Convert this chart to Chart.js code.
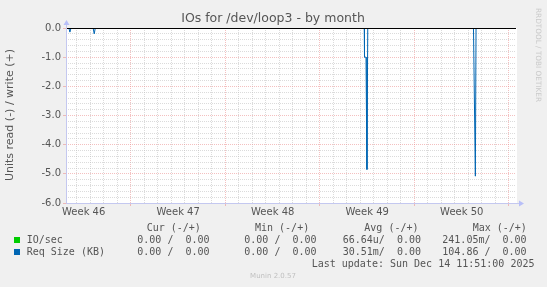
<!DOCTYPE html>
<html><head><meta charset="utf-8">
<script src="https://cdn.jsdelivr.net/npm/chart.js@4/dist/chart.umd.min.js"></script>
<style>html,body{margin:0;padding:0;background:#f0f0f0;overflow:hidden}#wrap{width:547px;height:287px;position:relative}canvas{display:block}</style>
</head><body>
<div id="wrap"><canvas id="c" width="547" height="287"></canvas></div>
<script>
// ---- text ----
const chartTitle = 'IOs for /dev/loop3 - by month';
const yAxisTitle = 'Units read (-) / write (+)';
const sideText = 'RRDTOOL / TOBI OETIKER';
const footerText = 'Munin 2.0.57';
const lastUpdate = 'Last update: Sun Dec 14 11:51:00 2025';

// ---- x axis: days relative to Sun 16 Nov 2025 00:00 ----
const xMin = -4.81, xMax = 28.52;
const weekLabels = ['Week 46', 'Week 47', 'Week 48', 'Week 49', 'Week 50'];
const weekCenters = [-3.5, 3.5, 10.5, 17.5, 24.5];
const weekStarts = [0, 7, 14, 21, 28];

// ---- y axis ----
const yMin = -6, yMax = 0;
const yMajorTicks = [-6, -5, -4, -3, -2, -1, 0];

// ---- series (read side, plotted negative) ----
const reqDays = [-4.81, -4.60, -4.52, -4.44, -2.80, -2.72, -2.64, 17.28, 17.30, 17.41, 17.48, 17.54, 25.37, 25.51, 25.56, 28.52];
const reqRead = [0, 0, -0.14, 0, 0, -0.2, 0, 0, -1.0, -1.0, -4.85, 0, 0, -5.08, 0, 0];
const ioDays = [-4.81, 28.52];
const ioRead = [0, 0];

// ---- legend ----
const legendHeaders = ['Cur (-/+)', 'Min (-/+)', 'Avg (-/+)', 'Max (-/+)'];
const legendNames = ['IO/sec', 'Req Size (KB)'];
const legendColors = ['#00cc00', '#0066b3'];
const legendValues = [
  ['0.00 /  0.00', '0.00 /  0.00', '66.64u/  0.00', '241.05m/  0.00'],
  ['0.00 /  0.00', '0.00 /  0.00', '30.51m/  0.00', '104.86 /  0.00']
];

const headerX = [146.7, 255, 364.3, 472.7];
const valueX = [137.3, 244.3, 342.7, 442.3];

function toPoints(xs, ys) { return xs.map((x, i) => ({ x: x, y: ys[i] })); }

const xTicks = [];
for (let d = Math.ceil(xMin); d <= Math.floor(xMax); d++) xTicks.push(d);
weekCenters.forEach(v => xTicks.push(v));
xTicks.sort((a, b) => a - b);
const yTicks = [];
for (let i = 0; i <= 30; i++) yTicks.push(Math.round((yMin + i * 0.2) * 10) / 10);

const MAJOR = 'rgba(235,140,140,0.55)';
const MINOR = 'rgba(190,190,190,0.55)';
const TEXT = '#555555';

const isInt = v => Math.abs(v - Math.round(v)) < 1e-6;

const deco = {
  id: 'deco',
  beforeDraw(chart) {
    const { ctx, chartArea: a } = chart;
    ctx.save();
    ctx.fillStyle = '#ffffff';
    ctx.fillRect(a.left, a.top, a.right - a.left + 1, a.bottom - a.top);
    ctx.restore();
  },
  afterDatasetsDraw(chart) {
    const { ctx, chartArea: a, scales } = chart;
    ctx.save();
    // zero line
    const y0 = Math.round(scales.y.getPixelForValue(0)) + 0.5;
    ctx.strokeStyle = '#000000';
    ctx.lineWidth = 1;
    ctx.beginPath();
    ctx.moveTo(a.left, y0);
    ctx.lineTo(a.right, y0);
    ctx.stroke();
    // axes
    const axisC = '#c4c8f0';
    const xl = Math.round(a.left) + 0.5;
    const yb = Math.round(a.bottom) + 0.5;
    ctx.strokeStyle = axisC;
    ctx.beginPath();
    ctx.moveTo(xl, yb);
    ctx.lineTo(xl, a.top - 5);
    ctx.moveTo(xl, yb);
    ctx.lineTo(a.right + 3, yb);
    ctx.stroke();
    ctx.fillStyle = '#b8bff8';
    ctx.beginPath();
    ctx.moveTo(xl - 3, a.top - 3);
    ctx.lineTo(xl + 3, a.top - 3);
    ctx.lineTo(xl, a.top - 8);
    ctx.closePath();
    ctx.fill();
    ctx.beginPath();
    ctx.moveTo(a.right + 3, yb - 3);
    ctx.lineTo(a.right + 3, yb + 3);
    ctx.lineTo(a.right + 8, yb);
    ctx.closePath();
    ctx.fill();
    ctx.restore();
  },
  afterDraw(chart) {
    const { ctx } = chart;
    ctx.save();
    ctx.fillStyle = TEXT;
    ctx.textBaseline = 'middle';
    ctx.textAlign = 'center';
    ctx.font = '12.5px "DejaVu Sans"';
    ctx.fillText(chartTitle, 273, 19);
    // y title
    ctx.save();
    ctx.translate(10.5, 115);
    ctx.rotate(-Math.PI / 2);
    ctx.font = '11px "DejaVu Sans"';
    ctx.fillText(yAxisTitle, 0, 0);
    ctx.restore();
    // side text
    ctx.save();
    ctx.translate(538, 55);
    ctx.rotate(Math.PI / 2);
    ctx.font = '7.3px "DejaVu Sans"';
    ctx.fillStyle = '#cacaca';
    ctx.fillText(sideText, 0, 0);
    ctx.restore();
    // legend
    ctx.textAlign = 'left';
    ctx.font = '10px "DejaVu Sans Mono"';
    ctx.fillStyle = TEXT;
    legendHeaders.forEach((h, i) => ctx.fillText(h, headerX[i], 228.5));
    const rowY = [240, 252];
    legendNames.forEach((n, r) => {
      ctx.fillStyle = legendColors[r];
      ctx.fillRect(14, rowY[r] - 3, 6, 6);
      ctx.fillStyle = TEXT;
      ctx.fillText(n, 26.7, rowY[r]);
      legendValues[r].forEach((v, i) => ctx.fillText(v, valueX[i], rowY[r]));
    });
    ctx.fillText(lastUpdate, 311.7, 264);
    ctx.textAlign = 'center';
    ctx.font = '7px "DejaVu Sans"';
    ctx.fillStyle = '#c0c0c0';
    ctx.fillText(footerText, 273, 276);
    ctx.restore();
  }
};

new Chart(document.getElementById('c'), {
  type: 'line',
  data: {
    datasets: [
      { label: 'Req Size (KB)', data: toPoints(reqDays, reqRead), borderColor: '#0066b3', borderWidth: 1, pointRadius: 0, tension: 0, fill: false, clip: 0 },
      { label: 'IO/sec', data: toPoints(ioDays, ioRead), borderColor: '#00cc00', borderWidth: 1, pointRadius: 0, tension: 0, fill: false, clip: 0 }
    ]
  },
  options: {
    responsive: false,
    animation: false,
    events: [],
    layout: { padding: { left: 0, right: 31, top: 28, bottom: 0 } },
    plugins: { legend: { display: false }, title: { display: false }, tooltip: { enabled: false } },
    scales: {
      x: {
        type: 'linear', min: xMin, max: xMax,
        afterFit(s) { s.height = 84; },
        afterBuildTicks(s) { s.ticks = xTicks.map(v => ({ value: v })); },
        ticks: {
          autoSkip: false, maxRotation: 0, minRotation: 0, padding: 0,
          color: TEXT, font: { family: 'DejaVu Sans', size: 10 },
          callback(v) { const i = weekCenters.indexOf(v); return i >= 0 ? weekLabels[i] : ''; }
        },
        grid: {
          lineWidth: 1, tickLength: 3,
          color(c) { const v = c.tick ? c.tick.value : 0; if (!isInt(v)) return 'rgba(0,0,0,0)'; return weekStarts.includes(Math.round(v)) ? MAJOR : MINOR; },
          tickColor(c) { const v = c.tick ? c.tick.value : 0; return (isInt(v) && weekStarts.includes(Math.round(v))) ? MAJOR : 'rgba(0,0,0,0)'; }
        },
        border: { display: false, dash: [1, 1] }
      },
      y: {
        type: 'linear', min: yMin, max: yMax,
        afterFit(s) { s.width = 66; },
        afterBuildTicks(s) { s.ticks = yTicks.map(v => ({ value: v })); },
        ticks: {
          autoSkip: false, padding: 2,
          color: TEXT, font: { family: 'DejaVu Sans', size: 10 },
          callback(v) { return yMajorTicks.some(t => Math.abs(t - v) < 1e-6) ? v.toFixed(1) : ''; }
        },
        grid: {
          lineWidth: 1, tickLength: 3,
          color(c) { const v = c.tick ? c.tick.value : 0; return isInt(v) ? MAJOR : MINOR; },
          tickColor(c) { const v = c.tick ? c.tick.value : 0; return isInt(v) ? MAJOR : 'rgba(0,0,0,0)'; }
        },
        border: { display: false, dash: [1, 1] }
      }
    }
  },
  plugins: [deco]
});
</script>
</body></html>
